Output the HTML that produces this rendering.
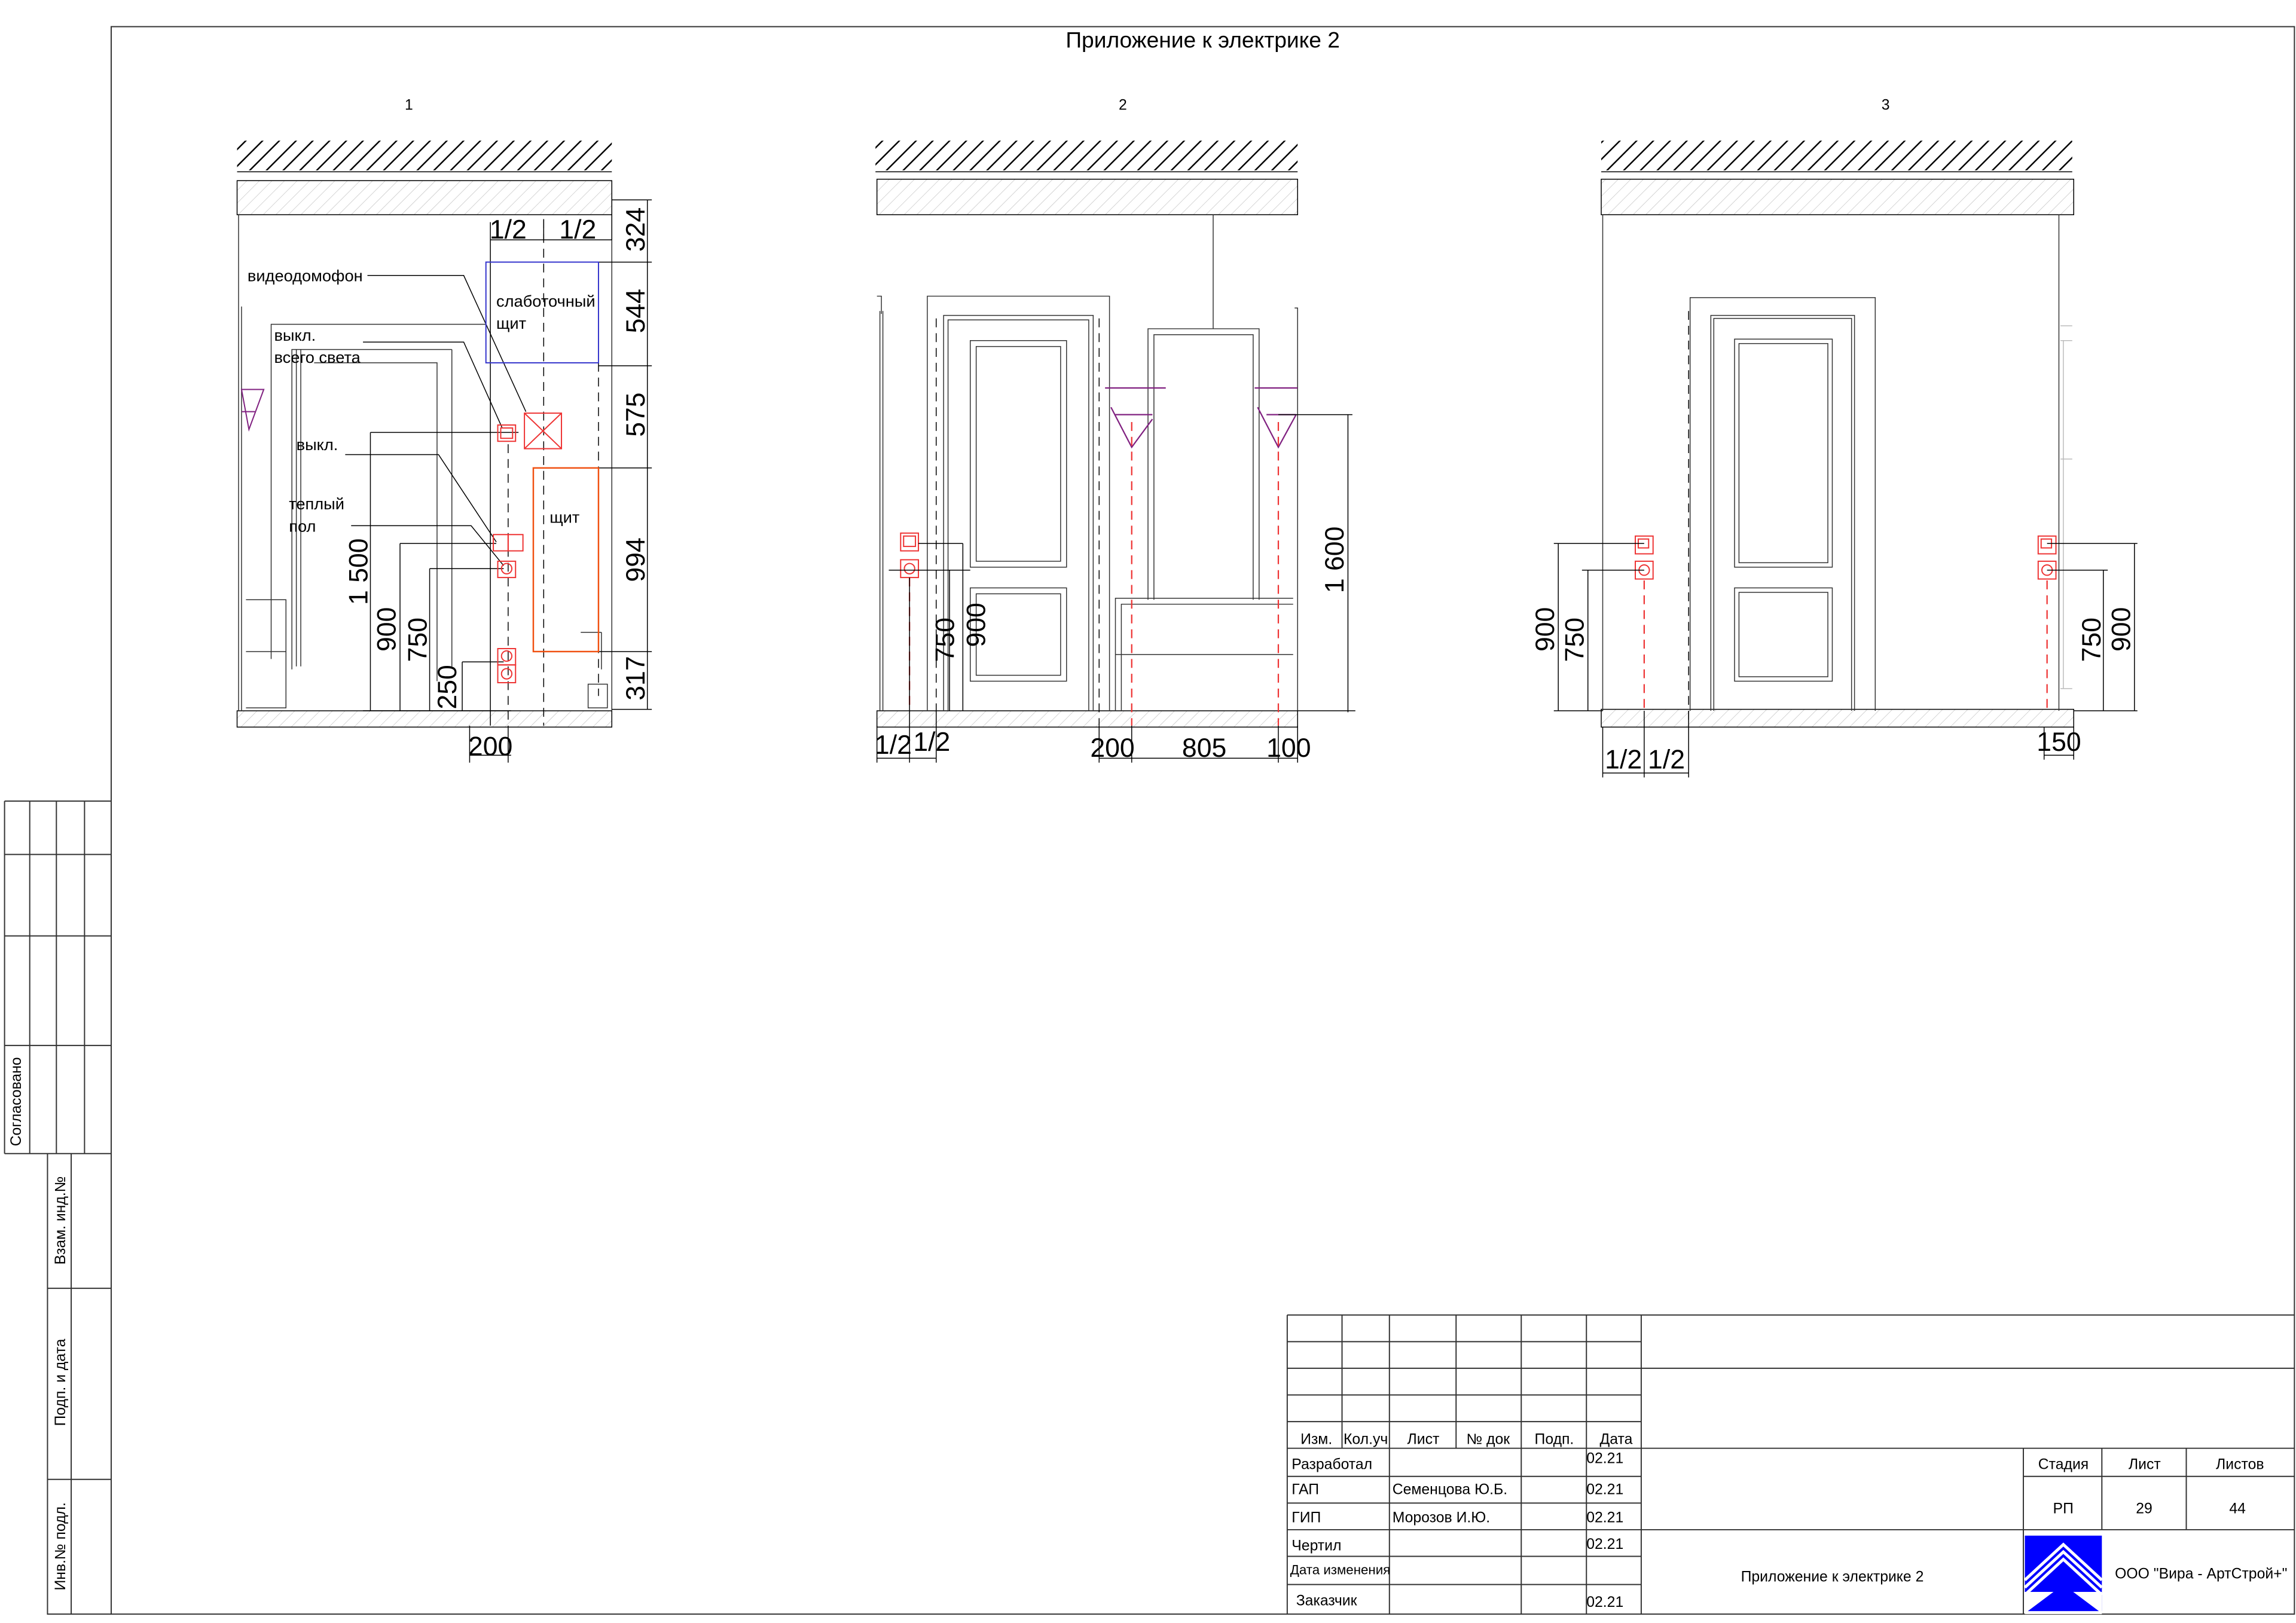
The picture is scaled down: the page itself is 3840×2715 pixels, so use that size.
<!DOCTYPE html>
<html><head><meta charset="utf-8"><style>html,body{margin:0;padding:0;background:#fff}svg{display:block}</style></head>
<body>
<svg width="3840" height="2715" viewBox="0 0 1550 1096" xmlns="http://www.w3.org/2000/svg" font-family="Liberation Sans, sans-serif">
<defs>
<pattern id="hh" width="8" height="8" patternUnits="userSpaceOnUse" patternTransform="rotate(45)"><line x1="0" y1="0" x2="0" y2="8" stroke="#000" stroke-width="2"/></pattern>
<pattern id="lh" width="6" height="6" patternUnits="userSpaceOnUse" patternTransform="rotate(45)"><line x1="0" y1="0" x2="0" y2="6" stroke="#bbb" stroke-width="0.5"/></pattern>
</defs>
<rect width="1550" height="1096" fill="#fff"/>
<g fill="none" stroke="#333" stroke-width="0.8">
<rect x="75" y="18" width="1474" height="1072"/>
<!-- left strip -->
<path d="M3 541H75M3 577H75M3 632H75M3 706H75M3 779H75M3 541V779M20 541V779M38 541V779M57 541V779"/>
<path d="M32 779V1090H75M32 870H75M32 999H75M48 779V1090"/>
<!-- title block -->
<path d="M869 888H1549M869 906H1108M869 924H1549M869 942H1108M869 960H1108M869 978H1549M869 997H1108M869 1015H1108M869 1033H1549M869 1051H1108M869 1070H1108M1366 997H1549"/>
<path d="M869 888V1090M906 888V978M938 888V1090M983 888V978M1027 888V1090M1071 888V1090M1108 888V1090M1366 978V1090M1419 978V1033M1476 978V1033"/>
</g>
<g font-size="10" fill="#000">
<text x="878" y="975">Изм.</text><text x="907" y="975">Кол.уч</text><text x="950" y="975">Лист</text><text x="990" y="975">№ док</text><text x="1036" y="975">Подп.</text><text x="1080" y="975">Дата</text>
<text x="872" y="992">Разработал</text><text x="872" y="1009">ГАП</text><text x="940" y="1009">Семенцова Ю.Б.</text><text x="872" y="1028">ГИП</text><text x="940" y="1028">Морозов И.Ю.</text>
<text x="872" y="1047">Чертил</text><text x="871" y="1063" font-size="9">Дата изменения</text><text x="875" y="1084">Заказчик</text>
<text x="1071" y="988">02.21</text><text x="1071" y="1009">02.21</text><text x="1071" y="1028">02.21</text><text x="1071" y="1046">02.21</text><text x="1071" y="1085">02.21</text>
<text x="1376" y="992">Стадия</text><text x="1437" y="992">Лист</text><text x="1496" y="992">Листов</text>
<text x="1386" y="1022">РП</text><text x="1442" y="1022">29</text><text x="1505" y="1022">44</text>
<text x="1237" y="1068" text-anchor="middle">Приложение к электрике 2</text>
<text x="1486" y="1066" text-anchor="middle">ООО "Вира - АртСтрой+"</text>
<text transform="translate(14,774) rotate(-90)">Согласовано</text>
<text transform="translate(44,854) rotate(-90)">Взам. инд.№</text>
<text transform="translate(44,963) rotate(-90)">Подп. и дата</text>
<text transform="translate(44,1074) rotate(-90)">Инв.№ подл.</text>
</g>
<!-- logo -->
<rect x="1367" y="1037" width="52" height="51" fill="#00f"/>
<path d="M1367 1077L1393 1053L1419 1077" stroke="#fff" stroke-width="2" fill="none"/>
<path d="M1367 1072L1393 1048L1419 1072" stroke="#fff" stroke-width="2" fill="none"/>
<path d="M1367 1067L1393 1043L1419 1067" stroke="#fff" stroke-width="2" fill="none"/>
<rect x="1367" y="1075" width="52" height="15" fill="#fff"/>
<path d="M1369 1088L1393 1070L1417 1088Z" fill="#00f"/>

<text x="812" y="32" font-size="15" text-anchor="middle">Приложение к электрике 2</text>
<g font-size="10"><text x="276" y="74" text-anchor="middle">1</text><text x="758" y="74" text-anchor="middle">2</text><text x="1273" y="74" text-anchor="middle">3</text></g>

<!-- hatch blocks -->
<g stroke="#000" stroke-width="0.6">
<rect x="160" y="95" width="253" height="20" fill="url(#hh)" stroke="none"/>
<rect x="591" y="95" width="285" height="20" fill="url(#hh)" stroke="none"/>
<rect x="1081" y="95" width="318" height="20" fill="url(#hh)" stroke="none"/>
<rect x="160" y="122" width="253" height="23" fill="url(#lh)"/>
<rect x="592" y="121" width="284" height="24" fill="url(#lh)"/>
<rect x="1081" y="121" width="319" height="24" fill="url(#lh)"/>
<rect x="160" y="480" width="253" height="11" fill="url(#lh)"/>
<rect x="592" y="480" width="284" height="11" fill="url(#lh)"/>
<rect x="1081" y="479" width="319" height="12" fill="url(#lh)"/>
<path d="M160 116H413M591 116H876M1081 116H1399" />
</g>

<!-- ELEVATION 1 -->
<g fill="none" stroke="#333" stroke-width="0.6">
<path d="M161 145V480M413 145V480M163 207V480"/>
<path d="M183 445V219H328M197 452V236H305M200 236V450M203 236V450M305 236V450M212 245H295V452M295 245V460"/>
<path d="M166 405H193V478H166M166 440H193"/>
<path d="M397 462H410V478H397Z M392 427H406M406 427V452"/>
</g>
<path d="M163 263H178L168 290Z M163 278H172" stroke="#802080" fill="none" stroke-width="0.8"/>
<g fill="none" stroke="#000" stroke-width="0.6">
<path d="M331 162H413M331 150V490M367 148V162M413 135V162"/>
<path d="M437 135V479M413 135H440M404 177H440M404 247H440M404 316H440M404 440H440M413 479H440"/>
<path d="M250 292H350M250 292V480M270 367H335M270 367V480M290 384H340M290 384V480M312 447H340M312 447V480M245 480H345"/>
<path d="M317 510H345M317 490V515M343 490V515"/>
<path d="M248 186H313L355 278M245 231H313L339 289M233 307H296L335 366M237 355H318L340 382"/>
</g>
<g stroke="#000" stroke-width="0.6" stroke-dasharray="6,4"><path d="M367 148V490M343 300V490M404 245V470"/></g>
<rect x="328" y="177" width="76" height="68" fill="none" stroke="#3333cc" stroke-width="0.8"/>
<g fill="none" stroke="#e33" stroke-width="0.8">
<rect x="354" y="279" width="25" height="24"/><path d="M354 279L379 303M379 279L354 303"/>
<rect x="336" y="287" width="12" height="11"/><rect x="338" y="289" width="8" height="7"/>
<rect x="333" y="361" width="10" height="11"/><rect x="343" y="361" width="10" height="11"/>
<rect x="336" y="379" width="12" height="11"/><circle cx="342" cy="384" r="3.5"/>
<rect x="336" y="438" width="12" height="11"/><rect x="336" y="449" width="12" height="12"/><circle cx="342" cy="443" r="3.5"/><circle cx="342" cy="455" r="3.5"/>
</g>
<rect x="360" y="316" width="44" height="124" fill="none" stroke="#f05010" stroke-width="1"/>
<g font-size="11" fill="#000">
<text x="167" y="190">видеодомофон</text><text x="335" y="207">слаботочный</text><text x="335" y="222">щит</text>
<text x="185" y="230">выкл.</text><text x="185" y="245">всего света</text><text x="200" y="304">выкл.</text>
<text x="195" y="344">теплый</text><text x="195" y="359">пол</text><text x="371" y="353">щит</text>
</g>
<g font-size="18" fill="#000">
<text x="343" y="161" text-anchor="middle">1/2</text><text x="390" y="161" text-anchor="middle">1/2</text>
<text x="331" y="510" text-anchor="middle">200</text>
<text transform="translate(435,155) rotate(-90)" text-anchor="middle">324</text>
<text transform="translate(435,210) rotate(-90)" text-anchor="middle">544</text>
<text transform="translate(435,280) rotate(-90)" text-anchor="middle">575</text>
<text transform="translate(435,378) rotate(-90)" text-anchor="middle">994</text>
<text transform="translate(435,458) rotate(-90)" text-anchor="middle">317</text>
<text transform="translate(248,386) rotate(-90)" text-anchor="middle">1 500</text>
<text transform="translate(267,425) rotate(-90)" text-anchor="middle">900</text>
<text transform="translate(288,432) rotate(-90)" text-anchor="middle">750</text>
<text transform="translate(308,464) rotate(-90)" text-anchor="middle">250</text>
</g>

<!-- ELEVATION 2 -->
<g fill="none" stroke="#333" stroke-width="0.6">
<path d="M594 210V480M596 210V480M592 200H595V212M876 210V480M874 208H876V220"/>
<path d="M626 480V200H749V480M637 480V213H738V480M640 480V216H735V480"/>
<rect x="655" y="230" width="65" height="153"/><rect x="659" y="234" width="57" height="145"/><rect x="655" y="397" width="65" height="63"/><rect x="659" y="401" width="57" height="55"/>
<path d="M819 145V222M775 405V222H850V405M779 405V226H846V405M753 480V404H873M753 442H873M757 480V408H873"/>
</g>
<g stroke="#000" stroke-width="0.6" stroke-dasharray="6,4" fill="none"><path d="M632 215V490M742 215V490"/></g>
<g stroke="#802080" stroke-width="0.9" fill="none"><path d="M746 262H787M847 262H876M750 275L764 302L778 283M753 280H778M849 275L863 302L875 280M855 280H875"/></g>
<g stroke="#e33" stroke-width="0.9" stroke-dasharray="6,4" fill="none"><path d="M764 285V490M863 285V490M614 390V480"/></g>
<g fill="none" stroke="#e33" stroke-width="0.8"><rect x="608" y="360" width="12" height="12"/><rect x="610" y="362" width="8" height="7"/><rect x="608" y="378" width="12" height="12"/><circle cx="614" cy="384" r="3.5"/></g>
<g fill="none" stroke="#000" stroke-width="0.6">
<path d="M620 367H650M650 367V480M600 385H655M641 385V480M863 280H913M910 280V481M876 480H915"/>
<path d="M592 512H632M592 490V515M614 390V515M632 480V515M742 512H876M742 490V515M764 490V515M863 490V515M876 490V515"/>
</g>
<g font-size="18" fill="#000">
<text transform="translate(907,378) rotate(-90)" text-anchor="middle">1 600</text>
<text transform="translate(665,422) rotate(-90)" text-anchor="middle">900</text>
<text transform="translate(644,432) rotate(-90)" text-anchor="middle">750</text>
<text x="603" y="509" text-anchor="middle">1/2</text><text x="629" y="507" text-anchor="middle">1/2</text>
<text x="751" y="511" text-anchor="middle">200</text><text x="813" y="511" text-anchor="middle">805</text><text x="870" y="511" text-anchor="middle">100</text>
</g>

<!-- ELEVATION 3 -->
<g fill="none" stroke="#333" stroke-width="0.6">
<path d="M1082 145V480M1390 145V480"/>
<path d="M1141 480V201H1266V480M1155 480V213H1252V480M1157 480V215H1250V480"/>
<rect x="1171" y="229" width="66" height="154"/><rect x="1174" y="232" width="60" height="148"/><rect x="1171" y="397" width="66" height="63"/><rect x="1174" y="400" width="60" height="57"/>
<path d="M1391 220H1399M1391 230H1399M1391 310H1399M1391 465H1399M1393 230V465" stroke="#bbb"/>
</g>
<g stroke="#000" stroke-width="0.6" stroke-dasharray="6,4" fill="none"><path d="M1140 210V490"/></g>
<g stroke="#e33" stroke-width="0.9" stroke-dasharray="6,4" fill="none"><path d="M1110 392V480M1382 392V480"/></g>
<g fill="none" stroke="#e33" stroke-width="0.8">
<rect x="1104" y="362" width="12" height="12"/><rect x="1106" y="364" width="7" height="6"/><rect x="1104" y="379" width="12" height="12"/><circle cx="1110" cy="385" r="3.5"/>
<rect x="1376" y="362" width="12" height="12"/><rect x="1378" y="364" width="7" height="6"/><rect x="1376" y="379" width="12" height="12"/><circle cx="1382" cy="385" r="3.5"/>
</g>
<g fill="none" stroke="#000" stroke-width="0.6">
<path d="M1049 367H1110M1052 367V480M1068 385H1110M1072 385V480M1049 480H1082"/>
<path d="M1382 367H1443M1441 367V480M1382 385H1423M1420 385V480M1400 480H1443"/>
<path d="M1082 522H1140M1082 491V525M1110 480V525M1140 480V525M1380 510H1400M1380 491V513M1400 491V513"/>
</g>
<g font-size="18" fill="#000">
<text transform="translate(1049,425) rotate(-90)" text-anchor="middle">900</text>
<text transform="translate(1069,432) rotate(-90)" text-anchor="middle">750</text>
<text transform="translate(1418,432) rotate(-90)" text-anchor="middle">750</text>
<text transform="translate(1438,425) rotate(-90)" text-anchor="middle">900</text>
<text x="1096" y="519" text-anchor="middle">1/2</text><text x="1125" y="519" text-anchor="middle">1/2</text>
<text x="1390" y="507" text-anchor="middle">150</text>
</g>
</svg>
</body></html>
